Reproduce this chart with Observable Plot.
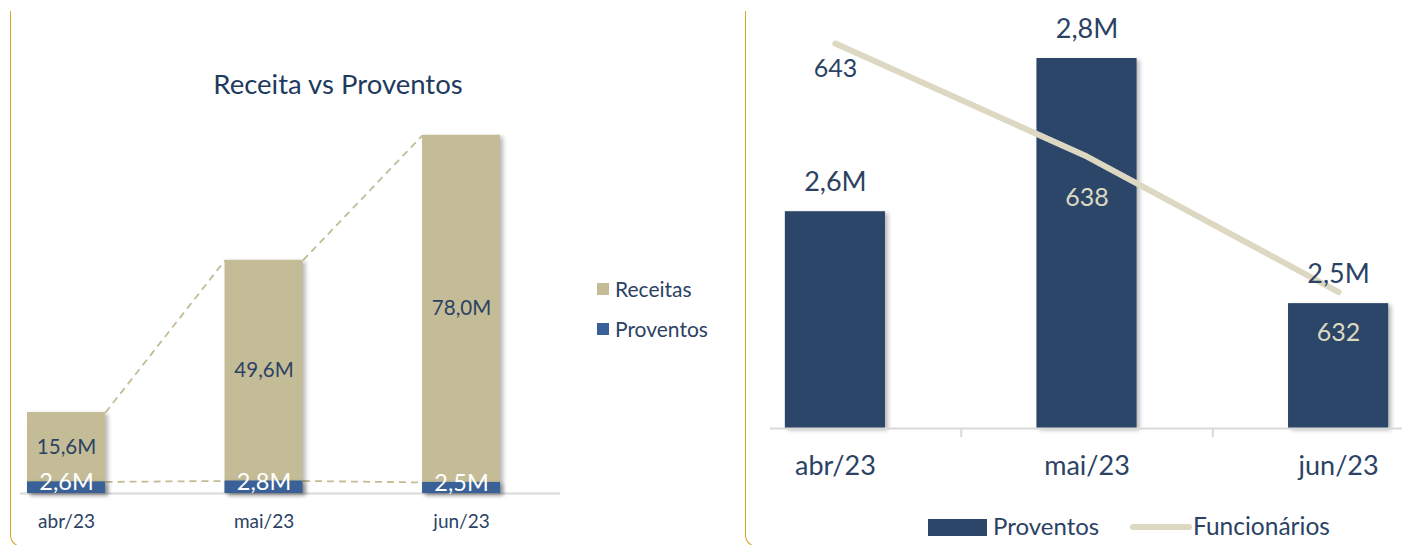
<!DOCTYPE html>
<html>
<head>
<meta charset="utf-8">
<script src="https://cdn.jsdelivr.net/npm/d3@7"></script>
<script src="https://cdn.jsdelivr.net/npm/@observablehq/plot@0.6"></script>
<style>
  html, body { margin: 0; padding: 0; background: #fff; }
  #root { position: relative; width: 1402px; height: 545px; overflow: hidden; font-family: Lato, "Open Sans", sans-serif; }
  .panel { position: absolute; border-left: 1.5px solid #d6a62a; border-bottom: 1.5px solid #d6a62a; border-bottom-left-radius: 12px; }
  .abs { position: absolute; }
  .abs svg { overflow: visible; }
  g[aria-label="rect"] { filter: drop-shadow(3px 2px 2px rgba(0,0,0,0.28)); }
  .lg { position: absolute; color: #2b4264; white-space: nowrap; line-height: 1; }
</style>
</head>
<body>
<div id="root">
  <div class="panel" style="left:10px; top:11px; width:720px; height:535px;"></div>
  <div class="panel" style="left:745px; top:11px; width:700px; height:535px;"></div>
  <div class="lg" style="left:0; width:676px; top:70px; text-align:center; font-size:27.5px; color:#1f3a5f;">Receita vs Proventos</div>
  <div id="left" class="abs" style="left:0; top:0;"></div>
  <div id="right" class="abs" style="left:746px; top:0;"></div>
  <div class="lg" style="left:597px; top:283px; width:12px; height:12px; background:#c4bc96;"></div>
  <div class="lg" style="left:615px; top:278px; font-size:21px;">Receitas</div>
  <div class="lg" style="left:597px; top:323px; width:12px; height:12px; background:#3a6197;"></div>
  <div class="lg" style="left:615px; top:318px; font-size:21px;">Proventos</div>
  <div class="lg" style="left:928px; top:519px; width:59px; height:17px; background:#2b4669;"></div>
  <div class="lg" style="left:993px; top:514px; font-size:24px;">Proventos</div>
  <div class="lg" style="left:1130px; top:524px; width:62px; height:6px; border-radius:3px; background:#ddd8c2;"></div>
  <div class="lg" style="left:1193px; top:514px; font-size:24.5px;">Funcionários</div>
</div>
<script>
// ---- data ----
const months = ["abr/23", "mai/23", "jun/23"];
const receitas = [15.6, 49.6, 78.0];      // milhões
const proventos = [2.61, 2.81, 2.49];     // milhões
const funcionarios = [643, 638, 632];

// ---- styles ----
const navy = "#2b4264";
const tan = "#c4bc96";
const blueL = "#3a6197";
const navyBar = "#2b4669";
const beige = "#ddd8c2";
const grid = "#d9d9d9";
const fmtM = v => v.toFixed(1).replace(".", ",") + "M";

// ---- left chart: stacked Receitas + Proventos ----
const rowsL = months.map((m, i) => ({i, m, rec: receitas[i], prov: proventos[i], total: receitas[i] + proventos[i]}));
const hwL = 0.1975;
const left = Plot.plot({
  width: 570, height: 545,
  marginLeft: 20, marginRight: 10, marginTop: 48, marginBottom: 52,
  style: {fontFamily: "Lato, sans-serif", background: "transparent"},
  x: {domain: [-0.233, 2.501], axis: null},
  y: {domain: [0, 100], axis: null},
  marks: [
    Plot.ruleY([0], {stroke: grid, strokeWidth: 2}),
    Plot.link(rowsL.slice(0, -1), {
      x1: d => d.i + hwL, y1: "total", x2: d => d.i + 1 - hwL, y2: d => rowsL[d.i + 1].total,
      stroke: tan, strokeWidth: 1.8, strokeDasharray: "7,5"
    }),
    Plot.link(rowsL.slice(0, -1), {
      x1: d => d.i + hwL, y1: "prov", x2: d => d.i + 1 - hwL, y2: d => rowsL[d.i + 1].prov,
      stroke: tan, strokeWidth: 1.8, strokeDasharray: "7,5"
    }),
    Plot.rect(rowsL, {x1: d => d.i - hwL, x2: d => d.i + hwL, y1: () => 0, y2: "total", fill: tan}),
    Plot.rect(rowsL, {x1: d => d.i - hwL, x2: d => d.i + hwL, y1: () => 0, y2: "prov", fill: blueL}),
    Plot.text(rowsL, {x: "i", y: d => d.prov + d.rec / 2, text: d => fmtM(d.rec), fill: navy, fontSize: 20.5}),
    Plot.text(rowsL, {x: "i", y: "prov", text: d => fmtM(d.prov), fill: "white", fontSize: 23.5, dy: 1}),
    Plot.text(rowsL, {x: "i", frameAnchor: "bottom", dy: 34, text: "m", fill: navy, fontSize: 19})
  ]
});
document.getElementById("left").appendChild(left);

// ---- right chart: Proventos bars + Funcionários line ----
const rowsR = months.map((m, i) => ({i, m, prov: proventos[i], func: funcionarios[i]}));
const hwR = 0.199;
const yMin = 2.327, yMax = 2.81;
const pxPerUnit = (428 - 58) / (yMax - yMin);
const funcToY = d3.scaleLinear().domain([625.96, 642.34]).range([yMin, yMax]); // secondary axis
const right = Plot.plot({
  width: 656, height: 545,
  marginLeft: 24, marginRight: 0, marginTop: 0, marginBottom: 117,
  style: {fontFamily: "Lato, sans-serif", background: "transparent"},
  x: {domain: [-0.258, 2.254], axis: null},
  y: {domain: [yMin, yMax], range: [428, 58], axis: null},
  marks: [
    Plot.rect(rowsR, {x1: d => d.i - hwR, x2: d => d.i + hwR, y1: () => yMin, y2: "prov", fill: navyBar}),
    Plot.ruleY([yMin], {stroke: grid, strokeWidth: 2}),
    Plot.ruleX([0.5, 1.5], {y1: () => yMin, y2: () => yMin - 9 / pxPerUnit, stroke: grid, strokeWidth: 2}),
    Plot.line(rowsR, {x: "i", y: d => funcToY(d.func), stroke: beige, strokeWidth: 6, strokeLinecap: "round"}),
    Plot.text(rowsR, {x: "i", y: "prov", text: d => fmtM(d.prov), dy: -29, fontSize: 27, fill: navy}),
    Plot.text(rowsR.slice(0, 1), {x: "i", y: d => funcToY(d.func), text: d => String(d.func), dy: 25, fontSize: 25, fill: navy}),
    Plot.text(rowsR.slice(1), {x: "i", y: d => funcToY(d.func), text: d => String(d.func), dy: 41, fontSize: 25, fill: beige}),
    Plot.text(rowsR, {x: "i", frameAnchor: "bottom", dy: 46, text: "m", fill: navy, fontSize: 27})
  ]
});
document.getElementById("right").appendChild(right);
</script>
</body>
</html>
